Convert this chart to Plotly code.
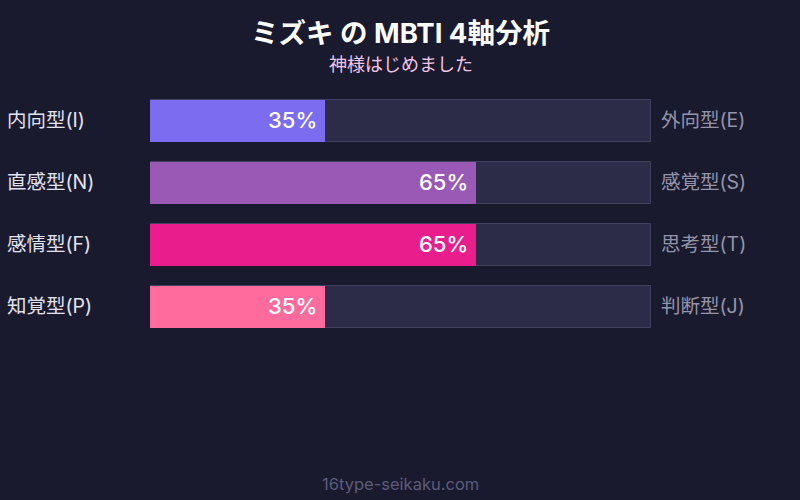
import plotly.graph_objects as go

# MBTI axis data
axes = ['EI', 'NS', 'FT', 'PJ']
left_labels = ['内向型(I)', '直感型(N)', '感情型(F)', '知覚型(P)']
right_labels = ['外向型(E)', '感覚型(S)', '思考型(T)', '判断型(J)']
percents = [35, 65, 65, 35]
bar_colors = ['#7b6cf0', '#9b59b6', '#e91e8c', '#ff6b9d']
track_max = [100, 100, 100, 100]

font_family = 'Inter, Noto Sans CJK JP, sans-serif'

fig = go.Figure()

# background tracks
fig.add_trace(go.Bar(
    y=axes, x=track_max, orientation='h',
    marker=dict(color='#2c2b48', line=dict(color='#41405f', width=1)),
    width=0.68, offset=-0.34, hoverinfo='skip', showlegend=False
))

# value bars (rounded ends)
fig.add_trace(go.Bar(
    y=axes, x=percents, orientation='h',
    marker=dict(color=bar_colors, line=dict(width=0), cornerradius=8),
    width=0.68, offset=-0.34, hoverinfo='skip', showlegend=False
))

annotations = []
for ax, lab_l, lab_r, pct in zip(axes, left_labels, right_labels, percents):
    annotations.append(dict(
        x=pct, y=ax, xref='x', yref='y', text=f'{pct}%',
        xanchor='right', xshift=-6, yshift=1, showarrow=False,
        font=dict(size=22, color='#ffffff', family=font_family, weight=500)
    ))
    annotations.append(dict(
        x=-145 / 501, y=ax, xref='paper', yref='y', text=lab_l,
        xanchor='left', yshift=1, showarrow=False,
        font=dict(size=19.5, color='#e2e2f2', family=font_family)
    ))
    annotations.append(dict(
        x=1 + 8 / 501, y=ax, xref='paper', yref='y', text=lab_r,
        xanchor='left', yshift=1, showarrow=False,
        font=dict(size=19.5, color='#9494aa', family=font_family)
    ))

annotations.append(dict(
    x=0.5, y=33, xref='paper', yref='paper', text='<b>ミズキ の MBTI 4軸分析</b>',
    showarrow=False, font=dict(size=27.5, color='#ffffff', family=font_family)
))
annotations.append(dict(
    x=0.5, y=64, xref='paper', yref='paper', text='神様はじめました',
    showarrow=False, font=dict(size=18, color='#f2c6e6', family=font_family)
))
annotations.append(dict(
    x=0.5, y=484, xref='paper', yref='paper', text='16type-seikaku.com',
    showarrow=False, font=dict(size=16.5, color='#5c5c7a', family=font_family)
))

# convert pixel y positions for the header/footer into paper coordinates
plot_top, plot_bottom = 90, 338
for a in annotations[-3:]:
    a['y'] = (plot_bottom - a['y']) / (plot_bottom - plot_top)
    a['yanchor'] = 'middle'

fig.update_layout(
    width=800, height=500,
    paper_bgcolor='#1a1a2e', plot_bgcolor='#1a1a2e',
    barmode='group', bargap=0,
    margin=dict(l=150, r=149, t=plot_top, b=500 - plot_bottom),
    xaxis=dict(range=[0, 100], visible=False, fixedrange=True),
    yaxis=dict(autorange='reversed', visible=False, fixedrange=True),
    annotations=annotations,
    font=dict(family=font_family),
)

fig.write_html("out.html", config={'displayModeBar': False},
               post_script="document.body.style.margin='0';document.body.style.overflow='hidden';")
